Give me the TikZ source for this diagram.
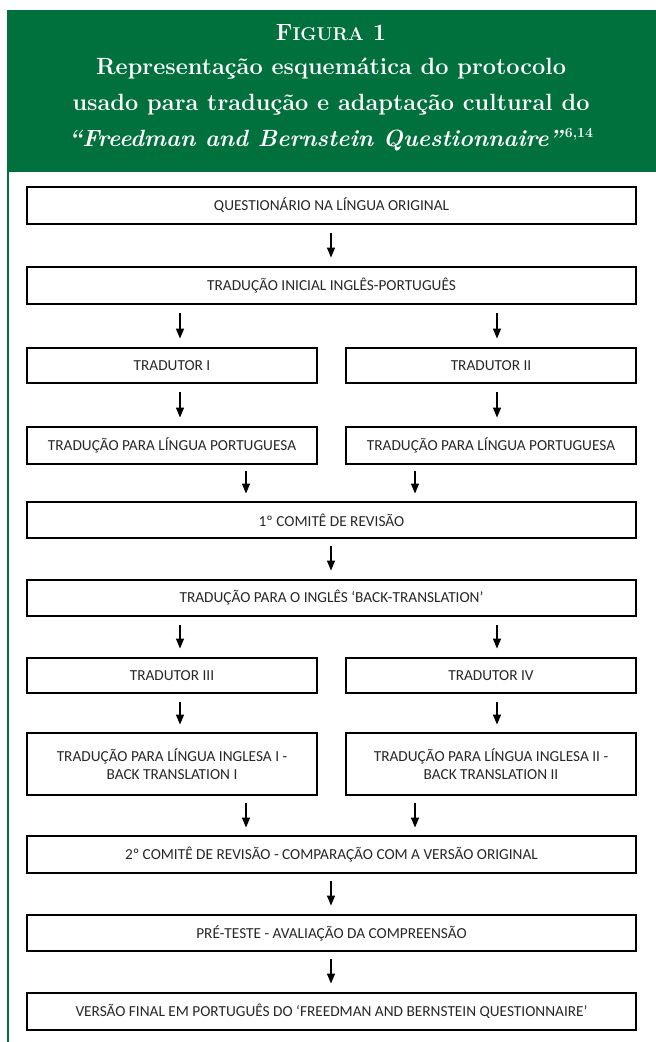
\documentclass[tikz,border=0pt]{standalone}
\usepackage{fontspec}
\newfontfamily\boxfont{Carlito}
\usetikzlibrary{arrows.meta,calc}
\definecolor{hdr}{RGB}{0,112,60}
\definecolor{boxtext}{RGB}{40,40,40}
\begin{document}
\begin{tikzpicture}[x=1pt,y=-1pt,
  box/.style={draw=black, line width=2.9pt, fill=white, inner sep=0pt,
    font=\boxfont\fontsize{15.3}{18}\selectfont, text=boxtext, align=center},
  full/.style={box, minimum width=609pt},
  half/.style={box, minimum width=290pt},
  arr/.style={-{Triangle[length=10pt,width=8pt]}, line width=1.4pt},
  ttl/.style={text=white, font=\bfseries\fontsize{23.5}{27}\selectfont, inner sep=0pt}]
\useasboundingbox (0,0) rectangle (656,1042);
\fill[white] (0,0) rectangle (656,1042);
% header band and frame line
\fill[hdr] (7,10) rectangle (656,172);
\draw[hdr, line width=1.2pt] (8,172) -- (8,1042);
% title
\node[ttl] (fig) at (331,33) {F{\fontsize{18.5}{20}\selectfont IGURA} 1};
\node[ttl] (t1) at (331,69) {Representação esquemática do protocolo};
\node[ttl] (t2) at (331,105) {usado para tradução e adaptação cultural do};
\node[ttl] (t3) at (331,140) {\textit{“Freedman and Bernstein Questionnaire”}\kern1pt\textsuperscript{\fontsize{14}{14}\selectfont\bfseries 6,14}};
% arrow columns
\coordinate (cx) at (331,0);
\coordinate (lx) at (180,0);
\coordinate (rx) at (497,0);
\coordinate (mlx) at (246,0);
\coordinate (mrx) at (415,0);
% boxes
\node[full, minimum height=37pt] (q) at (331.5,205.5) {QUESTIONÁRIO NA LÍNGUA ORIGINAL};
\node[full, minimum height=37pt] (ti) at (331.5,285.5) {TRADUÇÃO INICIAL INGLÊS-PORTUGUÊS};
\node[half, minimum height=35pt] (tr1) at (172,365.5) {TRADUTOR I};
\node[half, minimum height=35pt] (tr2) at (491,365.5) {TRADUTOR II};
\node[half, minimum height=37pt] (pt1) at (172,445.5) {TRADUÇÃO PARA LÍNGUA PORTUGUESA};
\node[half, minimum height=37pt] (pt2) at (491,445.5) {TRADUÇÃO PARA LÍNGUA PORTUGUESA};
\node[full, minimum height=36pt] (c1) at (331.5,520) {1º COMITÊ DE REVISÃO};
\node[full, minimum height=36pt] (bt) at (331.5,598) {TRADUÇÃO PARA O INGLÊS ‘BACK-TRANSLATION’};
\node[half, minimum height=35pt] (tr3) at (172,675.5) {TRADUTOR III};
\node[half, minimum height=35pt] (tr4) at (491,675.5) {TRADUTOR IV};
\node[half, minimum height=62pt] (in1) at (172,764) {TRADUÇÃO PARA LÍNGUA INGLESA I -\\BACK TRANSLATION I};
\node[half, minimum height=62pt] (in2) at (491,764) {TRADUÇÃO PARA LÍNGUA INGLESA II -\\BACK TRANSLATION II};
\node[full, minimum height=37pt] (c2) at (331.5,854.5) {2º COMITÊ DE REVISÃO - COMPARAÇÃO COM A VERSÃO ORIGINAL};
\node[full, minimum height=36pt] (pre) at (331.5,933) {PRÉ-TESTE - AVALIAÇÃO DA COMPREENSÃO};
\node[full, minimum height=37pt] (vf) at (331.5,1011.5) {VERSÃO FINAL EM PORTUGUÊS DO ‘FREEDMAN AND BERNSTEIN QUESTIONNAIRE’};
% arrows
\draw[arr] ($(q.south -| cx)+(0,8)$) -- ($(ti.north -| cx)+(0,-8)$);
\draw[arr] ($(ti.south -| lx)+(0,8)$) -- ($(tr1.north -| lx)+(0,-8)$);
\draw[arr] ($(ti.south -| rx)+(0,8)$) -- ($(tr2.north -| rx)+(0,-8)$);
\draw[arr] ($(tr1.south -| lx)+(0,8)$) -- ($(pt1.north -| lx)+(0,-8)$);
\draw[arr] ($(tr2.south -| rx)+(0,8)$) -- ($(pt2.north -| rx)+(0,-8)$);
\draw[arr] ($(pt1.south -| mlx)+(0,6)$) -- ($(c1.north -| mlx)+(0,-7)$);
\draw[arr] ($(pt2.south -| mrx)+(0,6)$) -- ($(c1.north -| mrx)+(0,-7)$);
\draw[arr] ($(c1.south -| cx)+(0,7)$) -- ($(bt.north -| cx)+(0,-8)$);
\draw[arr] ($(bt.south -| lx)+(0,8)$) -- ($(tr3.north -| lx)+(0,-8)$);
\draw[arr] ($(bt.south -| rx)+(0,8)$) -- ($(tr4.north -| rx)+(0,-8)$);
\draw[arr] ($(tr3.south -| lx)+(0,8)$) -- ($(in1.north -| lx)+(0,-7)$);
\draw[arr] ($(tr4.south -| rx)+(0,8)$) -- ($(in2.north -| rx)+(0,-7)$);
\draw[arr] ($(in1.south -| mlx)+(0,7)$) -- ($(c2.north -| mlx)+(0,-7)$);
\draw[arr] ($(in2.south -| mrx)+(0,7)$) -- ($(c2.north -| mrx)+(0,-7)$);
\draw[arr] ($(c2.south -| cx)+(0,7)$) -- ($(pre.north -| cx)+(0,-8)$);
\draw[arr] ($(pre.south -| cx)+(0,7)$) -- ($(vf.north -| cx)+(0,-8)$);
\end{tikzpicture}
\end{document}
